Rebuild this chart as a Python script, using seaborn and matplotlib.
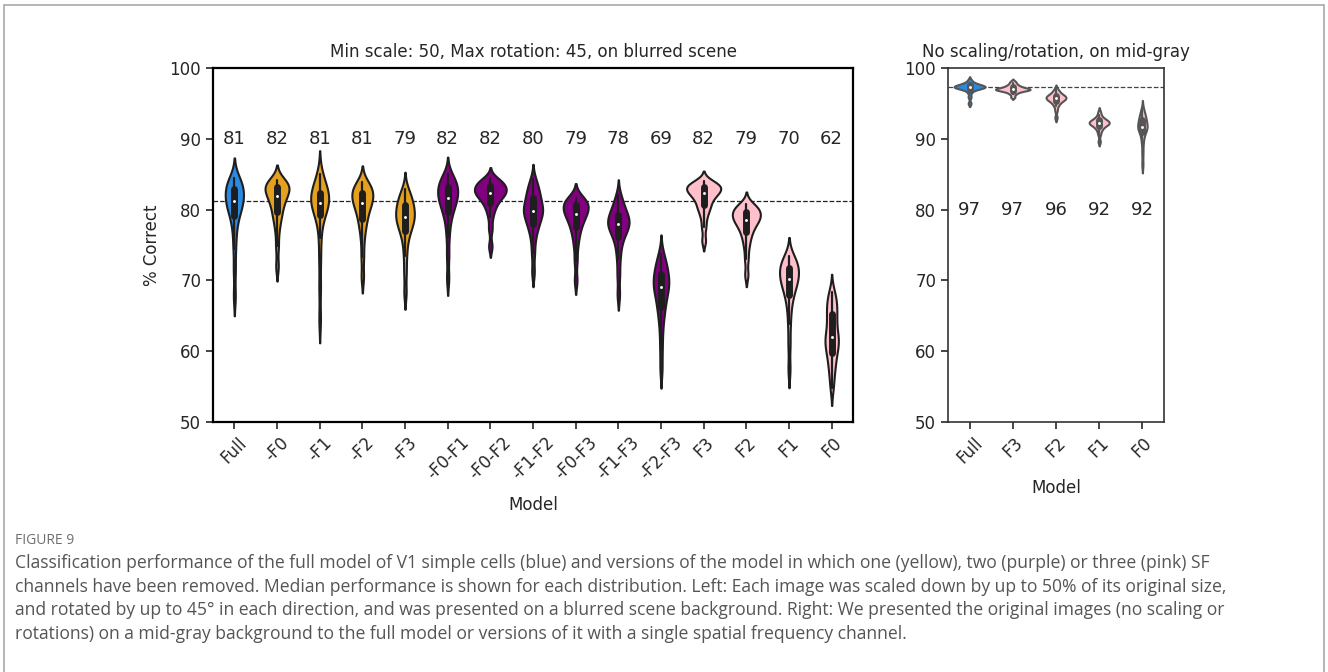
import numpy as np
import pandas as pd
import matplotlib
matplotlib.use("Agg")
import matplotlib.pyplot as plt
import seaborn as sns
from matplotlib.patches import Rectangle

# ---- model names -----------------------------------------------------------
blur_models = ["Full", "-F0", "-F1", "-F2", "-F3", "-F0-F1", "-F0-F2", "-F1-F2",
               "-F0-F3", "-F1-F3", "-F2-F3", "F3", "F2", "F1", "F0"]
gray_models = ["Full", "F3", "F2", "F1", "F0"]

# ---- % correct per model (21 values each, sorted) -----------------------------
# scaled / rotated images on a blurred scene
blur_full = [67.8, 71.5, 74.5, 76.6, 78.0, 79.1, 79.6, 80.1, 80.5, 80.9, 81.2,
             81.5, 81.8, 82.1, 82.5, 82.9, 83.2, 83.5, 83.8, 84.1, 84.5]
blur_m_f0 = [72.0, 74.8, 76.9, 78.2, 79.0, 79.6, 80.2, 80.8, 81.2, 81.6, 81.9,
             82.2, 82.5, 82.8, 83.0, 83.2, 83.4, 83.6, 83.8, 84.0, 84.2]
blur_m_f1 = [64.5, 69.0, 73.0, 76.0, 78.0, 79.2, 79.7, 80.1, 80.5, 80.8, 81.0,
             81.3, 81.6, 81.9, 82.1, 82.3, 82.7, 83.1, 83.6, 84.2, 85.0]
blur_m_f2 = [70.5, 73.3, 75.6, 77.1, 78.0, 78.7, 79.3, 79.9, 80.4, 80.7, 81.0,
             81.3, 81.6, 81.9, 82.2, 82.4, 82.7, 83.0, 83.3, 83.6, 83.9]
blur_m_f3 = [68.3, 71.2, 73.5, 75.2, 76.3, 77.0, 77.5, 77.9, 78.3, 78.6, 78.9,
             79.2, 79.5, 79.8, 80.2, 80.6, 80.9, 81.3, 81.7, 82.2, 82.9]
blur_m_f0_f1 = [70.3, 73.5, 76.2, 77.9, 79.0, 79.7, 80.2, 80.7, 81.1, 81.4, 81.7,
                82.0, 82.3, 82.6, 82.9, 83.2, 83.5, 83.8, 84.1, 84.5, 85.0]
blur_m_f0_f2 = [74.8, 77.3, 79.0, 80.0, 80.6, 81.0, 81.5, 81.8, 82.0, 82.2, 82.3,
                82.5, 82.7, 82.9, 83.1, 83.3, 83.5, 83.7, 83.9, 84.1, 84.4]
blur_m_f1_f2 = [71.2, 73.8, 75.6, 76.8, 77.5, 78.0, 78.5, 78.9, 79.3, 79.6, 79.8,
                80.1, 80.4, 80.7, 81.1, 81.6, 82.0, 82.4, 82.9, 83.5, 84.3]
blur_m_f0_f3 = [70.0, 72.8, 74.8, 76.0, 76.9, 77.5, 78.0, 78.5, 78.9, 79.2, 79.4,
                79.7, 79.9, 80.2, 80.4, 80.7, 80.9, 81.1, 81.3, 81.5, 81.7]
blur_m_f1_f3 = [68.0, 70.8, 73.0, 74.5, 75.5, 76.2, 76.7, 77.1, 77.4, 77.7, 77.9,
                78.2, 78.4, 78.6, 78.9, 79.3, 79.6, 80.0, 80.5, 81.1, 82.0]
blur_m_f2_f3 = [57.5, 60.3, 62.6, 64.3, 65.4, 66.2, 66.9, 67.6, 68.2, 68.6, 69.0,
                69.4, 69.7, 70.0, 70.4, 70.9, 71.3, 71.8, 72.3, 72.9, 73.7]
blur_f3 = [75.6, 77.5, 78.8, 79.7, 80.2, 80.6, 81.1, 81.5, 81.8, 82.1, 82.3,
           82.5, 82.7, 82.8, 83.0, 83.2, 83.3, 83.5, 83.6, 83.8, 84.0]
blur_f2 = [70.8, 73.0, 74.6, 75.6, 76.4, 76.9, 77.4, 77.8, 78.1, 78.4, 78.6,
           78.8, 79.0, 79.2, 79.4, 79.7, 79.9, 80.1, 80.3, 80.5, 80.8]
blur_f1 = [57.5, 61.0, 63.8, 65.8, 67.1, 68.0, 68.6, 69.1, 69.5, 69.9, 70.2,
           70.5, 70.8, 71.1, 71.4, 71.8, 72.1, 72.4, 72.7, 73.0, 73.4]
blur_f0 = [54.8, 56.4, 57.5, 58.4, 59.2, 59.8, 60.4, 60.9, 61.3, 61.7, 62.0,
           62.6, 63.2, 63.9, 64.6, 65.2, 65.8, 66.4, 67.0, 67.7, 68.4]

# original images on a mid-gray background
gray_full = [95.0, 95.9, 96.5, 96.85, 97.0, 97.1, 97.15, 97.2, 97.25, 97.3, 97.3,
             97.35, 97.4, 97.45, 97.5, 97.55, 97.6, 97.7, 97.8, 97.95, 98.3]
gray_f3 = [95.9, 96.3, 96.5, 96.65, 96.75, 96.8, 96.85, 96.9, 96.95, 97.0, 97.0,
           97.05, 97.1, 97.15, 97.2, 97.3, 97.4, 97.5, 97.65, 97.85, 98.1]
gray_f2 = [93.0, 94.0, 94.6, 94.9, 95.1, 95.3, 95.4, 95.5, 95.6, 95.65, 95.7,
           95.8, 95.9, 95.95, 96.0, 96.1, 96.2, 96.3, 96.5, 96.7, 97.0]
gray_f1 = [89.6, 90.6, 91.1, 91.4, 91.6, 91.8, 91.9, 92.0, 92.1, 92.15, 92.2,
           92.3, 92.35, 92.4, 92.5, 92.6, 92.7, 92.8, 93.0, 93.3, 93.8]
gray_f0 = [86.4, 88.0, 89.3, 90.1, 90.6, 91.0, 91.2, 91.4, 91.5, 91.6, 91.7,
           91.9, 92.1, 92.3, 92.5, 92.7, 92.9, 93.1, 93.4, 93.7, 94.2]

blur_scores = [blur_full, blur_m_f0, blur_m_f1, blur_m_f2, blur_m_f3,
               blur_m_f0_f1, blur_m_f0_f2, blur_m_f1_f2, blur_m_f0_f3,
               blur_m_f1_f3, blur_m_f2_f3, blur_f3, blur_f2, blur_f1, blur_f0]
gray_scores = [gray_full, gray_f3, gray_f2, gray_f1, gray_f0]

# colour by number of removed SF channels
BLUE, YELLOW, PURPLE, PINK = "#2b8ae0", "#e4a01f", "#800080", "#ffc0cb"
blur_colors = [BLUE] + [YELLOW] * 4 + [PURPLE] * 6 + [PINK] * 4
gray_colors = [BLUE] + [PINK] * 4


def long_frame(models, scores):
    return pd.DataFrame({
        "Model": np.repeat(models, [len(s) for s in scores]),
        "score": np.concatenate(scores),
    })


sns.set_style("ticks")
plt.rcParams["font.family"] = ["DejaVu Sans"]

fig = plt.figure(figsize=(13.28, 6.72), dpi=100)
W, H = 1328, 672


def px_axes(x0, y0, x1, y1):
    return fig.add_axes([x0 / W, 1 - y1 / H, (x1 - x0) / W, (y1 - y0) / H])


ax1 = px_axes(213, 68, 853, 422)
ax2 = px_axes(948, 68, 1164, 422)

panels = [
    (ax1, blur_models, blur_scores, blur_colors, "#1e1e1e", 90,
     "Min scale: 50, Max rotation: 45, on blurred scene", 1.6, "black"),
    (ax2, gray_models, gray_scores, gray_colors, "#555555", 80,
     "No scaling/rotation, on mid-gray", 1.2, "#333333"),
]

for ax, models, scores, colors, lc, label_y, title, spine_w, spine_c in panels:
    df = long_frame(models, scores)
    sns.violinplot(
        data=df, x="Model", y="score", hue="Model", order=models,
        hue_order=models, palette=colors, legend=False, saturation=1,
        cut=2, bw_adjust=0.6, common_norm=True, inner="box",
        inner_kws=dict(box_width=5, whis_width=1.6, marker="."),
        linewidth=1.5, linecolor=lc, ax=ax,
    )
    # small white median dots
    for ln in ax.lines:
        if ln.get_marker() == ".":
            ln.set_markersize(4.2)
            ln.set_markeredgewidth(0)
            ln.set_color("white")
    ref = np.median(scores[0])
    ax.axhline(ref, ls="--", color="#222222" if ax is ax1 else "#444444",
               lw=0.9, zorder=0.5)
    for i, s in enumerate(scores):
        ax.text(i, label_y, f"{np.median(s):.0f}", ha="center", va="center",
                fontsize=13)
    ax.set_ylim(50, 100)
    ax.set_yticks(range(50, 101, 10))
    ax.set_title(title, fontsize=12, pad=8)
    ax.set_xlabel("Model", fontsize=12, labelpad=9)
    ax.tick_params(axis="both", labelsize=12, length=5, width=1.2)
    ax.tick_params(axis="x", labelrotation=45)
    for sp in ax.spines.values():
        sp.set_linewidth(spine_w)
        sp.set_color(spine_c)
        sp.set_visible(True)

ax1.set_ylabel("% Correct", fontsize=12, labelpad=6)
ax2.set_ylabel("")

# caption
cap_font = ["Open Sans", "DejaVu Sans"]
fig.text(15 / W, 1 - 541 / H, "FIGURE 9", fontsize=10, color="#6e6e6e",
         family=cap_font, va="center", ha="left")
caption = [
    "Classification performance of the full model of V1 simple cells (blue) and versions of the model in which one (yellow), two (purple) or three (pink) SF",
    "channels have been removed. Median performance is shown for each distribution. Left: Each image was scaled down by up to 50% of its original size,",
    "and rotated by up to 45\u00b0 in each direction, and was presented on a blurred scene background. Right: We presented the original images (no scaling or",
    "rotations) on a mid-gray background to the full model or versions of it with a single spatial frequency channel.",
]
for k, line in enumerate(caption):
    fig.text(15 / W, 1 - (563 + 23.7 * k) / H, line, fontsize=12.62,
             color="#555555", family=cap_font, va="center", ha="left")

# light frame around the whole figure
fig.patches.append(Rectangle((4 / W, -0.05), 1320 / W, 1 - 5 / H + 0.05,
                             transform=fig.transFigure, fill=False,
                             edgecolor="#a8a8a8", lw=1.2))

fig.savefig("out.png", dpi=100)
